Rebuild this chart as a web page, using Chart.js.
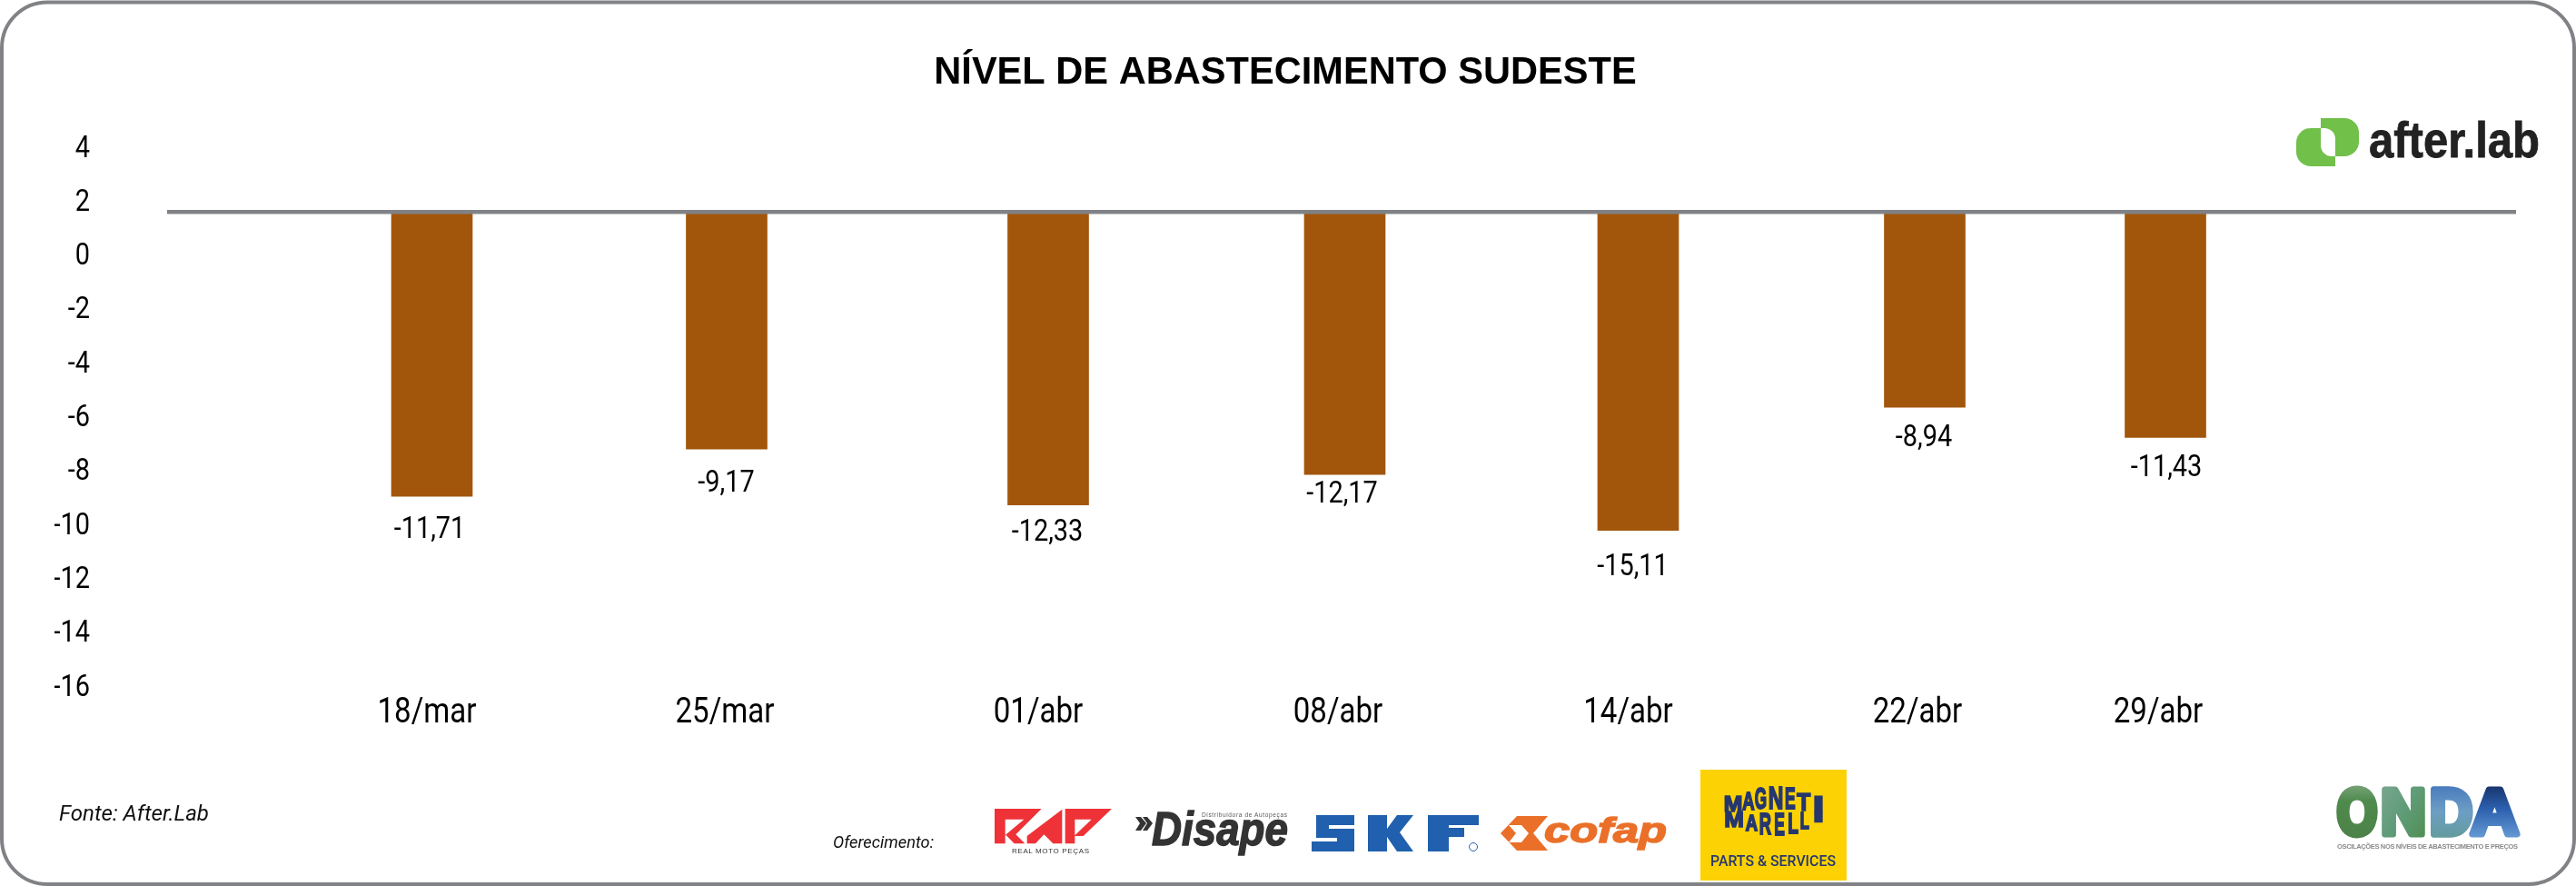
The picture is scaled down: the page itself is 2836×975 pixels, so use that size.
<!DOCTYPE html>
<html lang="pt-BR">
<head>
<meta charset="utf-8">
<title>Nível de abastecimento Sudeste</title>
<script src="https://cdn.jsdelivr.net/npm/chart.js@4"></script>
<style>
html,body{margin:0;padding:0;background:#fff;overflow:hidden}
#wrap{position:relative;width:2836px;height:975px}
#c{position:absolute;left:0;top:0}
#art{position:absolute;left:0;top:0;pointer-events:none}
</style>
</head>
<body>
<div id="wrap">
<canvas id="c" width="2836" height="975"></canvas>
<svg id="art" width="2836" height="975" viewBox="0 0 2836 975" xmlns="http://www.w3.org/2000/svg">
  <defs>
    <linearGradient id="gO" x1="0" y1="0" x2="0" y2="1"><stop offset="0" stop-color="#8fb08f"/><stop offset=".35" stop-color="#4f8a4d"/><stop offset="1" stop-color="#4c7f45"/></linearGradient>
    <linearGradient id="gN" x1="0" y1="0" x2="1" y2="1"><stop offset="0" stop-color="#7da893"/><stop offset=".5" stop-color="#5f9c78"/><stop offset="1" stop-color="#4f8c4c"/></linearGradient>
    <linearGradient id="gD" x1="0" y1="0" x2="0" y2="1"><stop offset="0" stop-color="#3a6cbc"/><stop offset=".5" stop-color="#6d9ec4"/><stop offset="1" stop-color="#5f9a8e"/></linearGradient>
    <linearGradient id="gA" x1="0" y1="0" x2="0" y2="1"><stop offset="0" stop-color="#10234f"/><stop offset=".45" stop-color="#2b5fae"/><stop offset="1" stop-color="#7aaee0"/></linearGradient>
  </defs>
  <rect x="2" y="2.5" width="2832" height="970.5" rx="50" ry="50" fill="none" stroke="#808285" stroke-width="4"/>

  <!-- after.lab -->
  <g fill="#70c04a">
    <path d="M2571 141H2544a16 16 0 0 0-16 16V167a16 16 0 0 0 16 16H2571Z"/>
    <path d="M2555 130H2581a16 16 0 0 1 16 16V156a16 16 0 0 1-16 16H2555Z"/>
  </g>
  <path d="M2555 141H2559a12 12 0 0 1 12 12V172H2567a12 12 0 0 1-12-12Z" fill="#fff"/>
  <text x="2608" y="173" font-family="Liberation Sans" font-weight="700" font-size="55" fill="#222" stroke="#222" stroke-width=".8" textLength="188" lengthAdjust="spacingAndGlyphs">after.lab</text>

  <!-- rodapé -->
  <text x="65" y="903" font-family="Roboto" font-style="italic" font-size="23" fill="#111" textLength="165" lengthAdjust="spacingAndGlyphs">Fonte: After.Lab</text>
  <text x="917" y="933" font-family="Roboto" font-style="italic" font-size="19" fill="#111" textLength="111" lengthAdjust="spacingAndGlyphs">Oferecimento:</text>

  <!-- RMP -->
  <g transform="translate(1090 885) scale(.33333)" fill="#ee3237" fill-rule="evenodd">
    <path d="M15 15H170L85 100L115 130H80L50 100V130H15ZM50 50V102L112 50Z"/>
    <path d="M122 105L238 17V130H208L178 100L150 130H122Z"/>
    <path d="M248 15H402L308 105H280V130H248ZM280 50V103L335 50Z"/>
  </g>
  <text x="1114" y="939" font-family="Liberation Sans" font-size="8" fill="#333" textLength="85" lengthAdjust="spacing">REAL MOTO PEÇAS</text>

  <!-- Disape -->
  <path d="M1250 899L1256 899L1262 906L1256 914L1250 914L1255 906ZM1258 899L1263 899L1269 906L1263 914L1258 914L1263 906Z" fill="#333"/>
  <text x="1268" y="930" font-family="Liberation Sans" font-weight="700" font-style="italic" font-size="52" fill="#333" stroke="#333" stroke-width="1.5" textLength="150" lengthAdjust="spacingAndGlyphs">Disape</text>
  <text x="1323" y="899" font-family="Liberation Sans" font-size="6.5" fill="#555" textLength="94" lengthAdjust="spacing">Distribuidora de Autopeças</text>

  <!-- SKF -->
  <g fill="#2060ae">
    <path d="M1449 897H1491V908H1463V912H1491V937H1444V926H1472V922H1449Z"/>
    <path d="M1506 897H1527V912L1538 897H1556L1541 916L1556 937H1538L1527 921V937H1506Z"/>
    <path d="M1572 897H1628V908H1595V911H1612V921H1595V937H1572Z"/>
  </g>
  <circle cx="1622" cy="932" r="4.5" fill="none" stroke="#2060ae" stroke-width="1"/>

  <!-- cofap -->
  <path fill-rule="evenodd" fill="#ea7029" d="M1652 917L1670 898H1704L1688 917L1704 936H1670ZM1661 908L1669 917L1661 927H1675L1683 917L1675 908Z"/>
  <text x="1700" y="927" font-family="Liberation Sans" font-weight="700" font-style="italic" font-size="38" fill="#ea7029" stroke="#ea7029" stroke-width="1.5" textLength="135" lengthAdjust="spacingAndGlyphs">cofap</text>

  <!-- Magneti Marelli -->
  <rect x="1872" y="847" width="161" height="122" fill="#fcd205"/>
  <g id="mm" transform="translate(1885 855) scale(.33333)" font-family="Liberation Sans" font-weight="700" font-size="100" fill="#26376e"></g>
  <text x="1883" y="953" font-family="Roboto" font-weight="500" font-size="17" fill="#26376e" textLength="138" lengthAdjust="spacingAndGlyphs">PARTS &amp; SERVICES</text>

  <!-- ONDA -->
  <g id="onda" font-family="Liberation Sans" font-weight="700" font-size="100" stroke-linejoin="round"></g>
  <text x="2573" y="934" font-family="Liberation Sans" font-weight="700" font-size="7.5" fill="#8a8a8a" textLength="199" lengthAdjust="spacing">OSCILAÇÕES NOS NÍVEIS DE ABASTECIMENTO E PREÇOS</text>
</svg>
</div>
<script>
// Dados
const categories = ['18/mar','25/mar','01/abr','08/abr','14/abr','22/abr','29/abr'];
const barEnds    = [-8.96,-7.2,-9.28,-8.15,-10.22,-5.65,-6.77];
const barLabels  = ['-11,71','-9,17','-12,33','-12,17','-15,11','-8,94','-11,43'];
const baseLevel  = 1.6;
// Posição de cada coleta no eixo horizontal (o espaçamento é irregular no original)
const barSlots   = [11.66,24.64,38.8,51.86,64.78,77.4,88];
const labelSlots = [11.44,24.56,38.36,51.56,64.34,77.08,87.68];
const valueSlots = [11.56,24.62,38.76,51.74,64.54,77.36,88.04];
const valueLevels = [-10.16,-8.44,-10.24,-8.84,-11.53,-6.75,-7.85];
const slotMax = 103.44;

const chartFont = 'Roboto';
const narrowBySize = {'34px':0.85,'38px':0.87};

// O texto do original usa uma fonte estreita: estreita o Roboto só na horizontal
const canvas = document.getElementById('c');
const rawCtx = canvas.getContext('2d');
const rawFillText = rawCtx.fillText.bind(rawCtx);
rawCtx.fillText = function(text,x,y,maxW){
  const m = /([\d.]+px)\s+"?Roboto/.exec(rawCtx.font);
  const k = m && narrowBySize[m[1]];
  if(!k){ return rawFillText(text,x,y,maxW); }
  rawCtx.save();
  rawCtx.translate(x, rawCtx.textBaseline==='middle' ? y+2 : y);
  rawCtx.scale(k,1);
  rawFillText(text,0,0);
  rawCtx.restore();
};

const valueLabelsPlugin = {
  id:'valueLabels',
  afterDatasetsDraw(chart){
    const {ctx, scales:{x,y}} = chart;
    ctx.save();
    ctx.font = '34px '+chartFont;
    ctx.fillStyle = '#000';
    ctx.textAlign = 'center';
    ctx.textBaseline = 'middle';
    barLabels.forEach((t,i)=>ctx.fillText(t, x.getPixelForValue(valueSlots[i]), y.getPixelForValue(valueLevels[i])));
    ctx.restore();
  }
};

new Chart(canvas,{
  type:'bar',
  data:{
    datasets:[
      {
        type:'line',
        data:[{x:0,y:baseLevel},{x:slotMax,y:baseLevel}],
        borderColor:'#808285',
        borderWidth:4.5,
        pointRadius:0,
        tension:0,
        order:0
      },
      {
        type:'bar',
        data:barSlots.map((x,i)=>({x,y:[baseLevel,barEnds[i]]})),
        backgroundColor:'#a2560c',
        borderWidth:0,
        barThickness:89,
        order:1
      }
    ]
  },
  options:{
    responsive:false,
    animation:false,
    layout:{padding:{left:60,right:66,top:0,bottom:120}},
    plugins:{
      legend:{display:false},
      tooltip:{enabled:false},
      title:{
        display:true,
        text:'NÍVEL DE ABASTECIMENTO SUDESTE',
        color:'#000',
        font:{family:'Liberation Sans',size:41.6,weight:'700',lineHeight:1.2},
        padding:{top:56,bottom:56.1}
      }
    },
    scales:{
      x:{
        type:'linear',
        offset:false,
        min:0,
        max:slotMax,
        grid:{display:false},
        border:{display:false},
        afterBuildTicks(s){ s.ticks = labelSlots.map(v=>({value:v})); },
        afterFit(s){ s.height = 100; },
        ticks:{
          autoSkip:false,
          maxRotation:0,
          padding:-2.6,
          color:'#000',
          font:{family:chartFont,size:38},
          callback:(v,i)=>categories[i]
        }
      },
      y:{
        min:-16,
        max:4,
        grid:{display:false},
        border:{display:false},
        afterFit(s){ s.width = 124; },
        ticks:{
          stepSize:2,
          padding:77,
          color:'#000',
          font:{family:chartFont,size:34},
          callback:v=>String(v)
        }
      }
    }
  },
  plugins:[valueLabelsPlugin]
});

// Letras dos logotipos, ajustadas uma a uma à caixa de cada glifo
(function(){
  const NS = 'http://www.w3.org/2000/svg';
  function fit(parent,ch,x0,x1,top,bot,attrs){
    const el = document.createElementNS(NS,'text');
    el.textContent = ch;
    Object.entries(attrs||{}).forEach(([k,v])=>el.setAttribute(k,v));
    parent.appendChild(el);
    const w = el.getComputedTextLength() || 70;
    el.setAttribute('transform','translate('+x0+' '+bot+') scale('+((x1-x0)/w).toFixed(3)+' '+((bot-top)/71.6).toFixed(3)+')');
  }
  const mm = document.getElementById('mm');
  const mmStroke = {stroke:'#26376e','stroke-width':'1.6','vector-effect':'non-scaling-stroke'};
  [
    ['M',38,100,65,115],['A',100,140,50,108],['G',140,180,35,105],['N',185,235,30,105],['E',240,275,35,105],['T',280,325,50,110],['I',330,372,65,115],
    ['M',40,105,115,165],['A',110,150,125,178],['R',155,195,118,188],['E',205,240,118,192],['L',250,285,118,185],['L',290,320,115,170],['I',330,372,115,150]
  ].forEach(l=>fit(mm,...l,mmStroke));
  const onda = document.getElementById('onda');
  [
    ['O',2573,2617,'gO'],['N',2621,2671,'gN'],['D',2675,2722,'gD'],['A',2720,2773,'gA']
  ].forEach(([ch,a,b,g])=>fit(onda,ch,a,b,867,918,{
    fill:'url(#'+g+')',stroke:'url(#'+g+')','stroke-width':'7','vector-effect':'non-scaling-stroke'
  }));
})();
</script>
</body>
</html>
